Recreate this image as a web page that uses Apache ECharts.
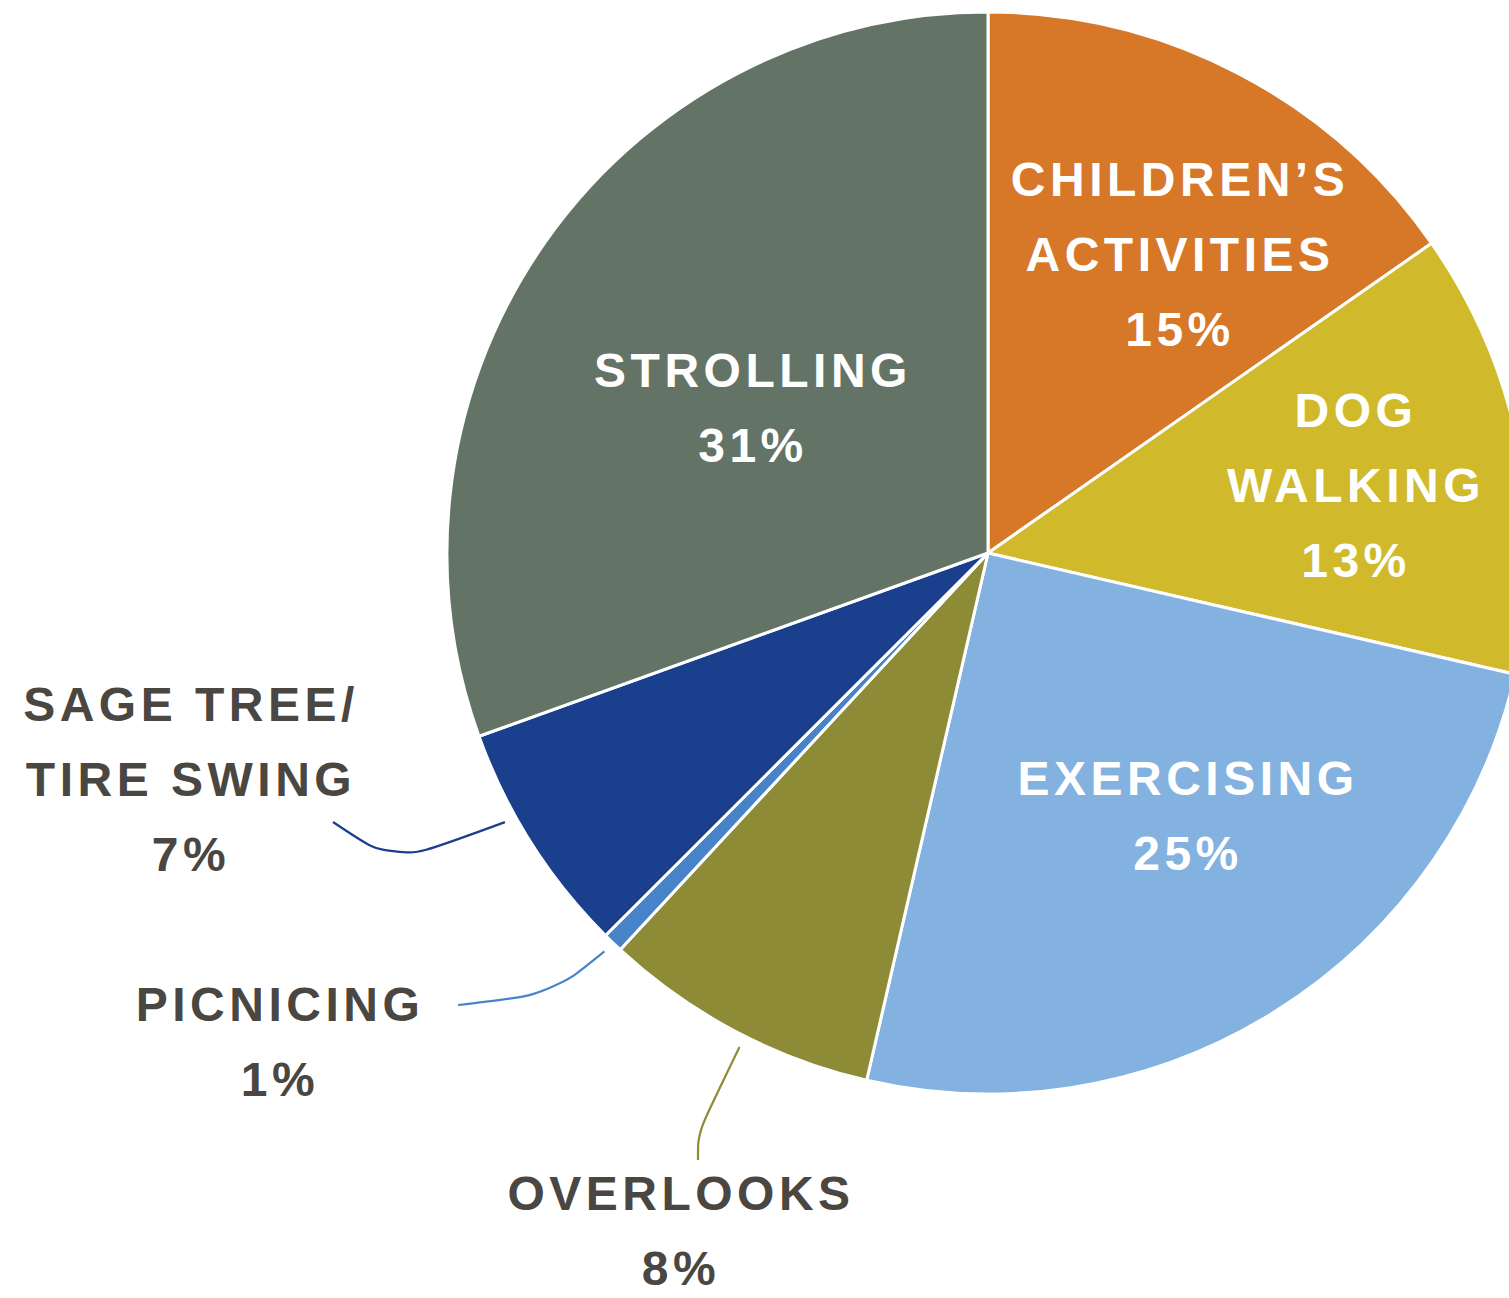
<!DOCTYPE html>
<html lang="en">

<head>
    <meta charset="UTF-8">
    <title>Park activities</title>
    <style>
        html,
        body {
            margin: 0;
            padding: 0;
            background: #fff;
        }

        #box {
            width: 1509px;
            height: 1298px;
        }

        /* echarts has no letter spacing option, the svg text picks this up */
        #box svg text {
            letter-spacing: 4.5px;
        }
    </style>
    <script src="https://cdn.jsdelivr.net/npm/echarts@6/dist/echarts.min.js"></script>
</head>

<body>
    <div id="box"></div>
    <script>
        // clockwise from 12 o'clock
        const categories = ['CHILDREN’S\nACTIVITIES', 'DOG\nWALKING', 'EXERCISING', 'OVERLOOKS',
            'PICNICING', 'SAGE TREE/\nTIRE SWING', 'STROLLING'];
        const shares = [15.3, 13.3, 25.0, 8.3, 0.6, 7.0, 30.5];
        const colors = ['#D67828', '#D0BA2C', '#83B2E0', '#8D8B36', '#4683C9', '#1A3F8C', '#637466'];

        const cx = 988, cy = 553, R = 541;

        // label centres, and where the leader line bends / ends (relative to label centre)
        const labelStyle = [
            { pos: [1180, 254], inside: true },
            { pos: [1356, 485], inside: true },
            { pos: [1188, 816], inside: true },
            { pos: [681, 1231], bend: [17, -98], end: [17, -71], at: 0.46 },
            { pos: [280, 1042], bend: [272, -48], end: [178, -37], at: 0.5 },
            { pos: [191, 779], bend: [203, 84], end: [142, 43], at: 0.63 },
            { pos: [753, 408], inside: true },
        ];

        const total = shares.reduce((a, b) => a + b, 0);

        // point just outside the rim, part way through the slice
        function rimPoint(i, frac, gap) {
            let before = 0;
            for (let k = 0; k < i; k++) before += shares[k];
            const ang = (before + shares[i] * frac) / total * Math.PI * 2;
            const r = R + gap;
            return [cx + r * Math.sin(ang), cy - r * Math.cos(ang)];
        }

        const box = document.querySelector('#box');
        const myChart = echarts.init(box, null, { renderer: 'svg' });

        const pieData = categories.map(function (name, i) {
            const st = labelStyle[i];
            return {
                name: name,
                value: shares[i],
                itemStyle: { color: colors[i] },
                label: {
                    position: st.inside ? 'inside' : 'outside',
                    color: st.inside ? '#ffffff' : '#4A4641',
                },
                labelLine: {
                    show: !st.inside,
                    lineStyle: { color: colors[i] }
                }
            };
        });

        const option = {
            animation: false,
            series: [{
                type: 'pie',
                center: [cx, cy],
                radius: R,
                startAngle: 90,
                clockwise: true,
                avoidLabelOverlap: false,
                itemStyle: {
                    borderColor: '#ffffff',
                    borderWidth: 3
                },
                emphasis: { disabled: true },
                label: {
                    show: true,
                    fontFamily: 'Liberation Sans',
                    fontWeight: 'bold',
                    fontSize: 48,
                    lineHeight: 75,
                    align: 'center',
                    formatter: function (p) {
                        return p.name + '\n' + Math.round(p.percent) + '%';
                    }
                },
                labelLine: {
                    show: true,
                    length: 10,
                    length2: 10,
                    smooth: 0.35,
                    lineStyle: { width: 2.2 }
                },
                labelLayout: function (params) {
                    const st = labelStyle[params.dataIndex];
                    const out = {
                        x: st.pos[0],
                        y: st.pos[1],
                        align: 'center',
                        verticalAlign: 'middle'
                    };
                    if (!st.inside) {
                        out.labelLinePoints = [
                            rimPoint(params.dataIndex, st.at, 12),
                            [st.pos[0] + st.bend[0], st.pos[1] + st.bend[1]],
                            [st.pos[0] + st.end[0], st.pos[1] + st.end[1]]
                        ];
                    }
                    return out;
                },
                data: pieData
            }]
        };

        myChart.setOption(option);
    </script>

</body>

</html>
